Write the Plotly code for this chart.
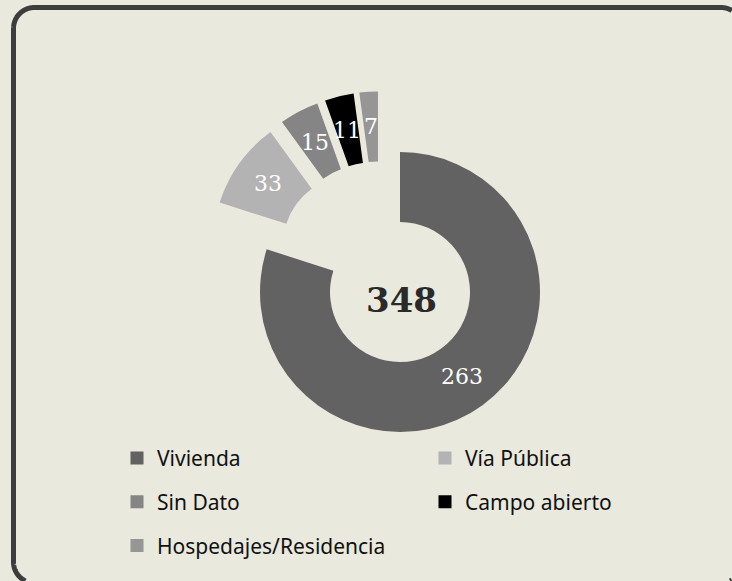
import numpy as np
import plotly.graph_objects as go

# ---- data ----
labels = ["Vivienda", "Vía Pública", "Sin Dato", "Campo abierto", "Hospedajes/Residencia"]
values = [263, 33, 15, 11, 7]
total_label = "348"
left_legend = ["Vivienda", "Sin Dato", "Hospedajes/Residencia"]
right_legend = ["Vía Pública", "Campo abierto"]

# ---- style ----
colors = {"Vivienda": "#626262", "Vía Pública": "#b3b3b3", "Sin Dato": "#858585",
          "Campo abierto": "#000000", "Hospedajes/Residencia": "#969696"}
W, H = 732, 581
BG = "#E9E9DE"
SERIF = "DejaVu Serif, Georgia, serif"
SANS = "Noto Sans, Open Sans, sans-serif"
HOLE = 0.5
PULL = 0.24

def px(x):
    return x / W

def py(y):
    return 1 - y / H

# pie geometry (pixels)
R = 140.0
cx, cy = 380.2, 264.9
half = R * (1 + PULL)
dom_x = [px(cx - half), px(cx + half)]
dom_y = [py(cy + half), py(cy - half)]

fig = go.Figure()

fig.add_trace(go.Pie(
    labels=labels,
    values=values,
    sort=False,
    direction="clockwise",
    rotation=0,
    hole=HOLE,
    pull=PULL,
    marker=dict(colors=[colors[l] for l in labels], line=dict(width=0)),
    textinfo="none",
    domain=dict(x=dom_x, y=dom_y),
    showlegend=False,
    hoverinfo="label+value",
))

# legend entries (dummy traces carrying category names/colours)
for lab in left_legend:
    fig.add_trace(go.Scatter(x=[None], y=[None], mode="markers", name=lab,
                             legendgroup=lab, legend="legend", hoverinfo="skip",
                             marker=dict(symbol="square", size=13, color=colors[lab],
                                         line=dict(width=0))))
for lab in right_legend:
    fig.add_trace(go.Scatter(x=[None], y=[None], mode="markers", name=lab,
                             legendgroup=lab, legend="legend2", hoverinfo="skip",
                             marker=dict(symbol="square", size=13, color=colors[lab],
                                         line=dict(width=0))))

# value labels: middle of each (pulled) ring segment, in a hidden axis frame
vals = np.array(values, dtype=float)
cum = np.cumsum(vals)
mid_deg = (cum - vals / 2) / vals.sum() * 360.0
label_r = PULL + (1 + HOLE) / 2
annotations = []
for v, a in zip(values, np.radians(mid_deg)):
    annotations.append(dict(text=str(v), x=label_r * np.sin(a), y=label_r * np.cos(a),
                            xref="x", yref="y", showarrow=False,
                            xanchor="center", yanchor="middle",
                            font=dict(family=SERIF, size=22, color="white")))
annotations.append(dict(text=f"<b>{total_label}</b>", x=px(401), y=py(300),
                        xref="paper", yref="paper", showarrow=False,
                        xanchor="center", yanchor="middle",
                        font=dict(family=SERIF, size=34, color="#2a2a2a")))

legend_common = dict(font=dict(family=SANS, size=21, color="#111111"),
                     bgcolor="rgba(0,0,0,0)", borderwidth=0, tracegroupgap=13.5,
                     traceorder="grouped", orientation="v",
                     xanchor="left", yanchor="top", y=py(437.8))

# ---- rounded border frame (partly outside the visible page) ----
def rounded_rect(x0, y0, x1, y1, r, n=120):
    pts = []
    for (ccx, ccy, a0) in [(x1 - r, y0 + r, -90), (x1 - r, y1 - r, 0),
                           (x0 + r, y1 - r, 90), (x0 + r, y0 + r, 180)]:
        for a in np.radians(np.linspace(a0, a0 + 90, n)):
            pts.append((ccx + r * np.cos(a), ccy + r * np.sin(a)))
    pts.append(pts[0])
    return pts

def visible_runs(pts):
    runs, cur = [], []
    for (x, y) in pts:
        if 0 <= x <= W and 0 <= y <= H:
            cur.append((x, y))
        elif cur:
            runs.append(cur)
            cur = []
    if cur:
        if runs and runs[0][0] == pts[0]:
            runs[0] = cur + runs[0]
        else:
            runs.append(cur)
    return [r for r in runs if len(r) > 1]

border = dict(color="#3d3d3d", width=5)
shapes = []
for run in visible_runs(rounded_rect(13.5, 7.5, 742.0, 583.0, 21.0)):
    path = "M " + " L ".join(f"{px(x):.5f},{py(y):.5f}" for x, y in run)
    shapes.append(dict(type="path", xref="paper", yref="paper", path=path,
                       line=border, fillcolor="rgba(0,0,0,0)", layer="below"))

axis_range = [-(1 + PULL), 1 + PULL]
fig.update_layout(
    width=W, height=H,
    margin=dict(l=0, r=0, t=0, b=0),
    paper_bgcolor=BG, plot_bgcolor="rgba(0,0,0,0)",
    xaxis=dict(visible=False, domain=dom_x, range=axis_range, fixedrange=True),
    yaxis=dict(visible=False, domain=dom_y, range=axis_range, fixedrange=True),
    legend=dict(x=px(117), **legend_common),
    legend2=dict(x=px(425), **legend_common),
    shapes=shapes,
    annotations=annotations,
)

fig.write_html("out.html",
               config={"displayModeBar": False},
               post_script="document.body.style.margin='0';"
                           "document.body.style.overflow='hidden';")
